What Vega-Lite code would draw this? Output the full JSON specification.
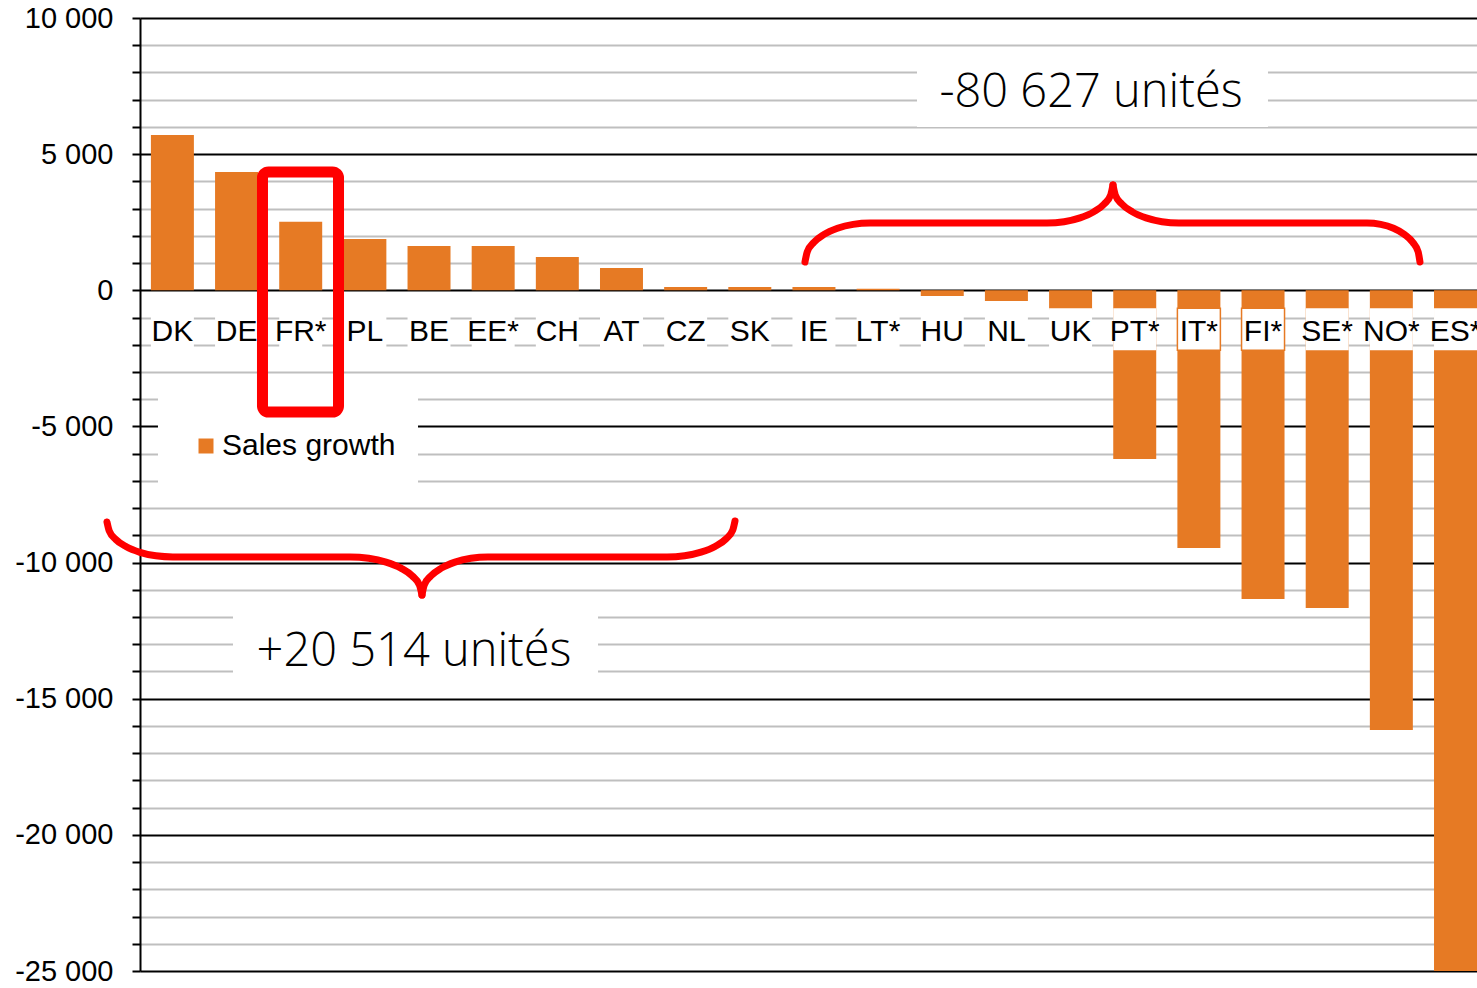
{
  "$schema": "https://vega.github.io/schema/vega-lite/v6.json",
  "width": 1337,
  "height": 953,
  "autosize": {"type": "none"},
  "padding": {"left": 140, "top": 18, "right": 0, "bottom": 17},
  "background": "white",
  "config": {
    "view": {"stroke": null},
    "locale": {"number": {"decimal": ",", "thousands": " ", "grouping": [3], "currency": ["", ""], "minus": "-"}}
  },
  "datasets": {
    "sales": [
      {"country": "DK", "value": 5700},
      {"country": "DE", "value": 4340},
      {"country": "FR*", "value": 2515},
      {"country": "PL", "value": 1885},
      {"country": "BE", "value": 1627},
      {"country": "EE*", "value": 1627},
      {"country": "CH", "value": 1223},
      {"country": "AT", "value": 819},
      {"country": "CZ", "value": 121},
      {"country": "SK", "value": 121},
      {"country": "IE", "value": 121},
      {"country": "LT*", "value": 60},
      {"country": "HU", "value": -210},
      {"country": "NL", "value": -393},
      {"country": "UK", "value": -723},
      {"country": "PT*", "value": -6195},
      {"country": "IT*", "value": -9464},
      {"country": "FI*", "value": -11337},
      {"country": "SE*", "value": -11668},
      {"country": "NO*", "value": -16148},
      {"country": "ES*", "value": -25000}
    ],
    "boxes": [
      {"from": 11.606, "to": 17.077, "top": 8641, "bottom": 5997},
      {"from": 0.944, "to": 6.634, "top": -11558, "bottom": -14496},
      {"from": -0.225, "to": 3.828, "top": -3735, "bottom": -7335}
    ],
    "frame": [
      {"from": 1.404, "to": 2.589, "top": 4344, "bottom": -4470}
    ],
    "braces": [
      {"brace": "top-left", "pos": 9.860, "v": 1039},
      {"brace": "top-left", "pos": 9.895, "v": 1410},
      {"brace": "top-left", "pos": 9.996, "v": 1755},
      {"brace": "top-left", "pos": 10.157, "v": 2052},
      {"brace": "top-left", "pos": 10.367, "v": 2279},
      {"brace": "top-left", "pos": 10.611, "v": 2422},
      {"brace": "top-left", "pos": 10.874, "v": 2471},
      {"brace": "top-left", "pos": 13.632, "v": 2471},
      {"brace": "top-left", "pos": 13.899, "v": 2519},
      {"brace": "top-left", "pos": 14.147, "v": 2658},
      {"brace": "top-left", "pos": 14.360, "v": 2880},
      {"brace": "top-left", "pos": 14.524, "v": 3169},
      {"brace": "top-left", "pos": 14.626, "v": 3505},
      {"brace": "top-left", "pos": 14.661, "v": 3867},
      {"brace": "top-right", "pos": 14.661, "v": 3867},
      {"brace": "top-right", "pos": 14.696, "v": 3505},
      {"brace": "top-right", "pos": 14.799, "v": 3169},
      {"brace": "top-right", "pos": 14.963, "v": 2880},
      {"brace": "top-right", "pos": 15.176, "v": 2658},
      {"brace": "top-right", "pos": 15.424, "v": 2519},
      {"brace": "top-right", "pos": 15.690, "v": 2471},
      {"brace": "top-right", "pos": 18.620, "v": 2471},
      {"brace": "top-right", "pos": 18.834, "v": 2422},
      {"brace": "top-right", "pos": 19.034, "v": 2279},
      {"brace": "top-right", "pos": 19.205, "v": 2052},
      {"brace": "top-right", "pos": 19.336, "v": 1755},
      {"brace": "top-right", "pos": 19.418, "v": 1410},
      {"brace": "top-right", "pos": 19.446, "v": 1039},
      {"brace": "bottom-left", "pos": -1.020, "v": -8510},
      {"brace": "bottom-left", "pos": -0.984, "v": -8843},
      {"brace": "bottom-left", "pos": -0.882, "v": -9153},
      {"brace": "bottom-left", "pos": -0.718, "v": -9419},
      {"brace": "bottom-left", "pos": -0.505, "v": -9623},
      {"brace": "bottom-left", "pos": -0.257, "v": -9751},
      {"brace": "bottom-left", "pos": 0.009, "v": -9795},
      {"brace": "bottom-left", "pos": 2.768, "v": -9795},
      {"brace": "bottom-left", "pos": 3.059, "v": -9843},
      {"brace": "bottom-left", "pos": 3.329, "v": -9982},
      {"brace": "bottom-left", "pos": 3.562, "v": -10204},
      {"brace": "bottom-left", "pos": 3.740, "v": -10493},
      {"brace": "bottom-left", "pos": 3.852, "v": -10829},
      {"brace": "bottom-left", "pos": 3.890, "v": -11191},
      {"brace": "bottom-right", "pos": 3.890, "v": -11191},
      {"brace": "bottom-right", "pos": 3.925, "v": -10829},
      {"brace": "bottom-right", "pos": 4.028, "v": -10493},
      {"brace": "bottom-right", "pos": 4.192, "v": -10204},
      {"brace": "bottom-right", "pos": 4.405, "v": -9982},
      {"brace": "bottom-right", "pos": 4.653, "v": -9843},
      {"brace": "bottom-right", "pos": 4.919, "v": -9795},
      {"brace": "bottom-right", "pos": 7.709, "v": -9795},
      {"brace": "bottom-right", "pos": 7.984, "v": -9750},
      {"brace": "bottom-right", "pos": 8.239, "v": -9618},
      {"brace": "bottom-right", "pos": 8.459, "v": -9408},
      {"brace": "bottom-right", "pos": 8.627, "v": -9134},
      {"brace": "bottom-right", "pos": 8.733, "v": -8815},
      {"brace": "bottom-right", "pos": 8.769, "v": -8473}
    ],
    "notes": [
      {"text": "-80 627 unités", "pos": 14.318, "v": 6731},
      {"text": "+20 514 unités", "pos": 3.766, "v": -13798}
    ]
  },
  "layer": [
    {
      "data": {"name": "sales"},
      "encoding": {
        "x": {"field": "country", "type": "nominal", "sort": null, "axis": null,
              "scale": {"paddingInner": 0.33, "paddingOuter": 0.085, "align": 1}}
      },
      "layer": [
        {
          "mark": {"type": "bar"},
          "encoding": {
            "y": {
              "field": "value", "type": "quantitative",
              "scale": {"domain": [-25000, 10000], "nice": false, "zero": false},
              "axis": {
                "title": null,
                "values": [-25000,-24000,-23000,-22000,-21000,-20000,-19000,-18000,-17000,-16000,-15000,-14000,-13000,-12000,-11000,-10000,-9000,-8000,-7000,-6000,-5000,-4000,-3000,-2000,-1000,0,1000,2000,3000,4000,5000,6000,7000,8000,9000,10000],
                "tickCount": 100,
                "format": ",d",
                "labelExpr": "datum.value % 5000 === 0 ? datum.label : ''",
                "labelFont": "Liberation Sans",
                "labelFontSize": 29,
                "labelColor": "black",
                "labelPadding": 19,
                "labelFlush": false,
                "labelOverlap": false,
                "tickSize": 8,
                "tickColor": "black",
                "tickWidth": 2,
                "domainColor": "black",
                "domainWidth": 2,
                "grid": true,
                "gridColor": {"condition": {"test": "datum.value % 5000 === 0", "value": "#000000"}, "value": "#bfbfbf"},
                "gridWidth": 2
              }
            },
            "color": {
              "datum": "Sales growth",
              "scale": {"range": ["#e67a24"]},
              "legend": {
                "title": null,
                "orient": "none",
                "legendX": 51,
                "legendY": 413,
                "padding": 0,
                "symbolType": "square",
                "symbolSize": 225,
                "symbolStrokeWidth": 0,
                "labelFont": "Liberation Sans",
                "labelFontSize": 30,
                "labelColor": "black",
                "labelOffset": 1,
                "labelLimit": 500
              }
            }
          }
        },
        {
          "mark": {"type": "bar", "color": "white"},
          "encoding": {"y": {"datum": -660, "type": "quantitative"}, "y2": {"datum": -2200}}
        },
        {
          "transform": [{"filter": {"field": "country", "oneOf": ["IT*", "FI*"]}}],
          "mark": {"type": "bar", "fill": "white", "stroke": "#e67a24", "strokeWidth": 1.5},
          "encoding": {"y": {"datum": -660, "type": "quantitative"}, "y2": {"datum": -2200}}
        },
        {
          "mark": {"type": "text", "font": "Liberation Sans", "fontSize": 30, "baseline": "alphabetic", "color": "black"},
          "encoding": {"y": {"datum": -1873, "type": "quantitative"}, "text": {"field": "country"}}
        }
      ]
    },
    {
      "layer": [
        {
          "data": {"name": "boxes"},
          "mark": {"type": "rect", "color": "white"},
          "encoding": {
            "x": {"field": "from", "type": "quantitative", "axis": null,
                  "scale": {"domain": [-0.5052, 20.3349], "nice": false, "zero": false}},
            "x2": {"field": "to"},
            "y": {"field": "top", "type": "quantitative"},
            "y2": {"field": "bottom"}
          }
        },
        {
          "data": {"name": "frame"},
          "mark": {"type": "rect", "filled": false, "color": "#ff0000", "strokeWidth": 11, "cornerRadius": 6},
          "encoding": {
            "x": {"field": "from", "type": "quantitative"},
            "x2": {"field": "to"},
            "y": {"field": "top", "type": "quantitative"},
            "y2": {"field": "bottom"}
          }
        },
        {
          "data": {"name": "braces"},
          "mark": {"type": "line", "color": "#ff0000", "strokeWidth": 7, "interpolate": "monotone", "strokeCap": "round"},
          "encoding": {
            "x": {"field": "pos", "type": "quantitative"},
            "y": {"field": "v", "type": "quantitative"},
            "detail": {"field": "brace"}
          }
        },
        {
          "data": {"name": "notes"},
          "mark": {"type": "text", "font": "Open Sans", "fontWeight": 300, "fontSize": 47, "baseline": "alphabetic", "color": "black"},
          "encoding": {
            "x": {"field": "pos", "type": "quantitative"},
            "y": {"field": "v", "type": "quantitative"},
            "text": {"field": "text"}
          }
        }
      ]
    }
  ],
  "resolve": {"scale": {"x": "independent"}}
}
